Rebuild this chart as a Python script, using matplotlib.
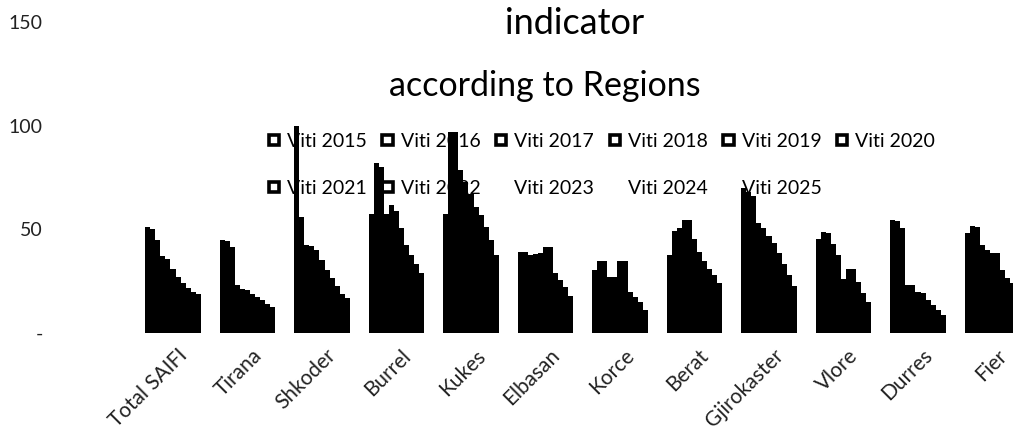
import numpy as np
import matplotlib
matplotlib.use('Agg')
import matplotlib.pyplot as plt
import matplotlib.transforms as mtrans
from matplotlib.patches import Patch

plt.rcParams['font.family'] = ['Lato', 'DejaVu Sans']

# regions and years
regions = ['Total SAIFI', 'Tirana', 'Shkoder', 'Burrel', 'Kukes', 'Elbasan',
           'Korce', 'Berat', 'Gjirokaster', 'Vlore', 'Durres', 'Fier']
years = ['Viti 2015', 'Viti 2016', 'Viti 2017', 'Viti 2018', 'Viti 2019', 'Viti 2020',
         'Viti 2021', 'Viti 2022', 'Viti 2023', 'Viti 2024', 'Viti 2025']

# values per region, 2015 -> 2025
total_saifi = [51, 50, 45, 37, 35.5, 31, 27, 24, 21.5, 20, 19]
tirana = [45, 44.5, 41.5, 23, 21, 20.5, 19, 17.5, 16, 14, 12.5]
shkoder = [100, 56, 42.5, 42, 40, 35, 30.5, 26.5, 22.5, 19, 17]
burrel = [57.5, 82, 80, 57.5, 61.5, 59, 50.5, 42.5, 37.5, 33.5, 29]
kukes = [57.5, 97, 97, 78.5, 73, 67, 61, 57, 51, 45, 37.5]
elbasan = [39, 39, 37.5, 38, 38.5, 41.5, 41.5, 29, 25.5, 22, 18]
korce = [30.5, 34.5, 34.5, 27, 27, 34.5, 34.5, 20, 17.5, 15, 11]
berat = [37.5, 49, 50.5, 54.5, 54.5, 45.5, 39, 34.5, 31, 28, 24]
gjirokaster = [70, 68, 66, 53, 50.5, 47, 43.5, 38.5, 33.5, 28, 22.5]
vlore = [45.5, 48.5, 48, 43, 37.5, 26, 31, 31, 24.5, 19.5, 15]
durres = [54.5, 54, 50.5, 23, 23, 20, 19.5, 16, 13.5, 11, 8.5]
fier = [48, 51.5, 51, 42.5, 40, 38.5, 38.5, 30.5, 26.5, 24, 21]

values = np.array([total_saifi, tirana, shkoder, burrel, kukes, elbasan,
                   korce, berat, gjirokaster, vlore, durres, fier])

W, H = 1013, 436
fig = plt.figure(figsize=(W / 100, H / 100), dpi=100)
# plot area runs past the right edge (last group is cut off in the original)
ax = fig.add_axes([135.75 / W, 103 / H, 894 / W, 311 / H])

x = np.arange(len(regions))
w = 0.75 / len(years)
for j in range(len(years)):
    ax.bar(x + (j - 5) * w, values[:, j], width=w, color='black', zorder=3)

ax.set_xlim(-0.5, len(regions) - 0.5)
ax.set_ylim(0, 150)
ax.set_yticks([0, 50, 100, 150], ['-', '50', '100', '150'])
ax.tick_params(axis='y', length=0, pad=67, labelsize=14, labelcolor='#222222')
ax.set_xticks(x, regions, rotation=45, ha='right', rotation_mode='anchor')
ax.tick_params(axis='x', length=0, pad=9, labelsize=15, labelcolor='#222222')
# nudge the rotated labels a little to the right, as in the original
shift = mtrans.ScaledTranslation(4 / 100, 0, fig.dpi_scale_trans)
for lab in ax.get_xticklabels():
    lab.set_transform(lab.get_transform() + shift)
for s in ax.spines.values():
    s.set_visible(False)

# legend: hollow squares, last three are invisible in the original
handles = []
for i in range(len(years)):
    if i < 8:
        handles.append(Patch(facecolor='white', edgecolor='black', linewidth=2.6))
    else:
        handles.append(Patch(facecolor='white', edgecolor='white', linewidth=0))
order = [0, 6, 1, 7, 2, 8, 3, 9, 4, 10, 5]
leg = ax.legend([handles[i] for i in order], [years[i] for i in order],
                ncols=6, frameon=False, fontsize=14, handlelength=0.52, handleheight=0.42,
                handletextpad=0.42, columnspacing=0.8, labelspacing=1.55,
                loc='center', bbox_to_anchor=(602 / W, 1 - 165 / H),
                bbox_transform=fig.transFigure)
leg.set_zorder(1)

fig.text(575 / W, 1 - 24 / H, 'indicator', ha='center', va='center', fontsize=26)
fig.text(545 / W, 1 - 86 / H, 'according to Regions', ha='center', va='center', fontsize=24.5)

fig.savefig('out.png', dpi=100)
